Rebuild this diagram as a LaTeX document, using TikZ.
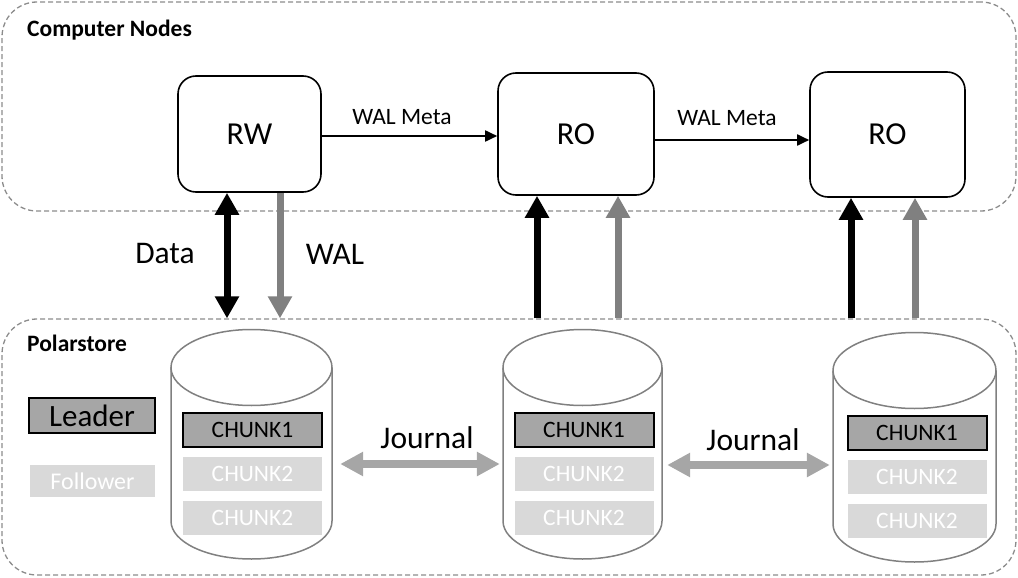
\documentclass[tikz,border=0pt]{standalone}
\usepackage{fontspec}
\setmainfont{Carlito}
\usetikzlibrary{arrows.meta,calc}
\definecolor{dashgray}{HTML}{8C8C8C}
\definecolor{walgray}{HTML}{808080}
\definecolor{jgray}{HTML}{A6A6A6}
\definecolor{leadfill}{HTML}{A6A6A6}
\definecolor{follfill}{HTML}{D9D9D9}
\definecolor{cylgray}{HTML}{808080}
\newcommand\drawcyl[4]{%
  \pgfmathsetmacro\cylcx{(#2+#3)/2}%
  \pgfmathsetmacro\cylrx{(#3-#2)/2}%
  \pgfmathsetmacro\cylyt{367.5+#4}%
  \pgfmathsetmacro\cylyb{521+#4}%
  \pgfmathsetmacro\cylry{38}%
  \node[inner sep=0pt, minimum width=\cylrx*2pt, minimum height=229pt] (#1) at (\cylcx,{444+#4}) {};
  \draw[cylline] (#2,\cylyt) -- (#2,\cylyb)
    .. controls (#2,{\cylyb+0.5523*\cylry}) and ({\cylcx-0.5523*\cylrx},{\cylyb+\cylry}) .. (\cylcx,{\cylyb+\cylry})
    .. controls ({\cylcx+0.5523*\cylrx},{\cylyb+\cylry}) and (#3,{\cylyb+0.5523*\cylry}) .. (#3,\cylyb) -- (#3,\cylyt);
  \draw[cylline] (\cylcx,\cylyt) ellipse [x radius=\cylrx pt, y radius=\cylry pt];
}
\begin{document}
\begin{tikzpicture}[x=1pt,y=-1pt,
  container/.style={draw=dashgray, line width=1.3pt, dash pattern=on 5pt off 3pt, rounded corners=35pt, inner sep=0pt},
  compnode/.style={draw=black, line width=1.6pt, rounded corners=18pt, inner sep=0pt, font=\fontsize{32}{34}\selectfont},
  titletext/.style={anchor=west, inner sep=0pt, font=\fontsize{23.5}{25}\selectfont\bfseries},
  metaarrow/.style={draw=black, line width=1.8pt, arrows={-Triangle[length=12pt,width=11pt]}},
  metalabel/.style={inner sep=0pt, font=\fontsize{23.5}{25}\selectfont},
  bigblack/.style={draw=black, line width=7pt, arrows={-Triangle[length=22pt,width=23pt]}},
  biggray/.style={draw=walgray, line width=7pt, arrows={-Triangle[length=22pt,width=23pt]}},
  bothblack/.style={draw=black, line width=7pt, arrows={Triangle[length=22pt,width=23pt]-Triangle[length=22pt,width=23pt]}},
  journalarrow/.style={draw=jgray, line width=8pt, arrows={Triangle[length=23pt,width=23pt]-Triangle[length=23pt,width=23pt]}},
  biglabel/.style={inner sep=0pt, font=\fontsize{31.5}{33}\selectfont},
  journallabel/.style={inner sep=0pt, font=\fontsize{31.5}{33}\selectfont},
  cylline/.style={draw=cylgray, line width=1.5pt},
  chunklead/.style={draw=black, line width=2pt, fill=leadfill, inner sep=0pt, minimum width=139pt, minimum height=34pt, font=\fontsize{23.5}{25}\selectfont},
  chunkfoll/.style={fill=follfill, text=white, inner sep=0pt, minimum width=139pt, minimum height=34pt, font=\fontsize{23.5}{25}\selectfont}
]
\useasboundingbox (0,0) rectangle (1018,578);

% containers
\node[container, minimum width=1014pt, minimum height=209pt] (cn) at (509,106.5) {};
\node[container, minimum width=1014pt, minimum height=256pt] (ps) at (509,447) {};
\node[titletext] (cntitle) at (27,30) {Computer Nodes};
\node[titletext] (pstitle) at (27,343) {Polarstore};

% compute nodes
\node[compnode, minimum width=143pt, minimum height=116pt] (RW) at (249.5,134) {RW};
\node[compnode, minimum width=156pt, minimum height=122pt] (RO1) at (576,134) {RO};
\node[compnode, minimum width=155pt, minimum height=125pt] (RO2) at (887.5,134.5) {RO};

\draw[metaarrow] ($(RW.east)+(0,2)$) -- ($(RO1.west)+(0,2)$);
\draw[metaarrow] ($(RO1.east)+(0,6)$) -- ($(RO2.west)+(0,5.5)$);
\node[metalabel] (m1) at (402,117) {WAL Meta};
\node[metalabel] (m2) at (727,118) {WAL Meta};

% vertical arrows
\coordinate (xd) at (227,0);
\coordinate (xw) at (280,0);
\coordinate (xb1) at (537,0);
\coordinate (xg1) at (618,0);
\coordinate (xb2) at (851,0);
\coordinate (xg2) at (915,0);
\draw[bothblack] (RW.south -| xd) -- (ps.north -| xd);
\draw[biggray] (RW.south -| xw) -- (ps.north -| xw);
\draw[bigblack] (ps.north -| xb1) -- (RO1.south -| xb1);
\draw[biggray] (ps.north -| xg1) -- (RO1.south -| xg1);
\draw[bigblack] (ps.north -| xb2) -- (RO2.south -| xb2);
\draw[biggray] (ps.north -| xg2) -- (RO2.south -| xg2);
\node[biglabel] (datalabel) at (165,254) {Data};
\node[biglabel] (wallabel) at (335,254) {WAL};

% legend
\node[chunklead, minimum width=126pt, minimum height=35pt, font=\fontsize{31}{33}\selectfont] (leader) at (92,415.5) {Leader};
\node[chunkfoll, minimum width=125pt, minimum height=32pt, font=\fontsize{24}{25}\selectfont] (follower) at (92.5,481) {Follower};

% cylinders
\drawcyl{cyl1}{171}{332}{0}
\drawcyl{cyl2}{503}{662}{0}
\drawcyl{cyl3}{833}{996}{3}

\node[chunklead] (c11) at (252.5,430) {CHUNK1};
\node[chunkfoll] (c12) at (252.5,473.5) {CHUNK2};
\node[chunkfoll] (c13) at (252.5,518) {CHUNK2};
\node[chunklead] (c21) at (584,430) {CHUNK1};
\node[chunkfoll] (c22) at (584,473.5) {CHUNK2};
\node[chunkfoll] (c23) at (584,518) {CHUNK2};
\node[chunklead] (c31) at (917,433) {CHUNK1};
\node[chunkfoll] (c32) at (917,476.5) {CHUNK2};
\node[chunkfoll] (c33) at (917,521) {CHUNK2};

% journal
\coordinate (jy1) at (0,464);
\coordinate (jy2) at (0,465);
\draw[journalarrow] ([xshift=8pt]cyl1.east |- jy1) -- ([xshift=-3pt]cyl2.west |- jy1);
\draw[journalarrow] ([xshift=5pt]cyl2.east |- jy2) -- ([xshift=-3pt]cyl3.west |- jy2);
\node[journallabel] (j1) at (427,438) {Journal};
\node[journallabel] (j2) at (753,440) {Journal};
\end{tikzpicture}
\end{document}
